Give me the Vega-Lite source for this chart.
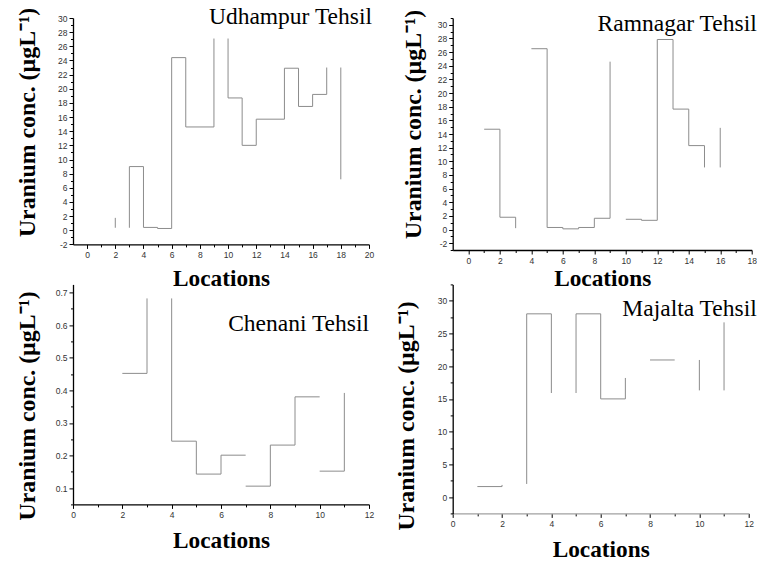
{
  "$schema": "https://vega.github.io/schema/vega-lite/v6.json",
  "padding": {"left": 15, "top": 4, "right": 0, "bottom": 0},
  "autosize": {"type": "pad"},
  "background": "white",
  "config": {
    "view": {"stroke": null},
    "axis": {
      "grid": false,
      "domainColor": "#000000",
      "domainWidth": 1.3,
      "tickColor": "#000000",
      "tickWidth": 1,
      "labelFont": "Liberation Sans",
      "labelFontSize": 8.5,
      "labelColor": "#333333",
      "labelPadding": 2,
      "labelFlush": false,
      "labelOverlap": false,
      "titleFont": "Liberation Serif",
      "titleFontWeight": "bold",
      "titleColor": "#000000"
    },
    "axisX": {"titleFontSize": 23.3},
    "axisY": {"titleFontSize": 23.8},
    "title": {
      "font": "Liberation Serif",
      "fontSize": 23.5,
      "fontWeight": "normal",
      "color": "#000000",
      "anchor": "end",
      "frame": "group",
      "baseline": "alphabetic"
    },
    "rule": {"color": "#8c8c8c", "strokeWidth": 1}
  },
  "datasets": {
    "udhampur": [
      {"x0": 2, "y0": 0.35, "x1": 2, "y1": 1.75},
      {"x0": 3, "y0": 0.35, "x1": 3, "y1": 9.0},
      {"x0": 3, "y0": 9.0, "x1": 4, "y1": 9.0},
      {"x0": 4, "y0": 9.0, "x1": 4, "y1": 0.4},
      {"x0": 4, "y0": 0.4, "x1": 5, "y1": 0.4},
      {"x0": 5, "y0": 0.4, "x1": 5, "y1": 0.25},
      {"x0": 5, "y0": 0.25, "x1": 6, "y1": 0.25},
      {"x0": 6, "y0": 0.25, "x1": 6, "y1": 24.4},
      {"x0": 6, "y0": 24.4, "x1": 7, "y1": 24.4},
      {"x0": 7, "y0": 24.4, "x1": 7, "y1": 14.6},
      {"x0": 7, "y0": 14.6, "x1": 9, "y1": 14.6},
      {"x0": 9, "y0": 14.6, "x1": 9, "y1": 27.1},
      {"x0": 10, "y0": 27.1, "x1": 10, "y1": 18.7},
      {"x0": 10, "y0": 18.7, "x1": 11, "y1": 18.7},
      {"x0": 11, "y0": 18.7, "x1": 11, "y1": 12.0},
      {"x0": 11, "y0": 12.0, "x1": 12, "y1": 12.0},
      {"x0": 12, "y0": 12.0, "x1": 12, "y1": 15.7},
      {"x0": 12, "y0": 15.7, "x1": 14, "y1": 15.7},
      {"x0": 14, "y0": 15.7, "x1": 14, "y1": 22.9},
      {"x0": 14, "y0": 22.9, "x1": 15, "y1": 22.9},
      {"x0": 15, "y0": 22.9, "x1": 15, "y1": 17.5},
      {"x0": 15, "y0": 17.5, "x1": 16, "y1": 17.5},
      {"x0": 16, "y0": 17.5, "x1": 16, "y1": 19.2},
      {"x0": 16, "y0": 19.2, "x1": 17, "y1": 19.2},
      {"x0": 17, "y0": 19.2, "x1": 17, "y1": 23.0},
      {"x0": 18, "y0": 23.0, "x1": 18, "y1": 7.2}
    ],
    "ramnagar": [
      {"x0": 1, "y0": 14.7, "x1": 2, "y1": 14.7},
      {"x0": 2, "y0": 14.7, "x1": 2, "y1": 1.8},
      {"x0": 2, "y0": 1.8, "x1": 3, "y1": 1.8},
      {"x0": 3, "y0": 1.8, "x1": 3, "y1": 0.2},
      {"x0": 4, "y0": 26.5, "x1": 5, "y1": 26.5},
      {"x0": 5, "y0": 26.5, "x1": 5, "y1": 0.3},
      {"x0": 5, "y0": 0.3, "x1": 6, "y1": 0.3},
      {"x0": 6, "y0": 0.3, "x1": 6, "y1": 0.1},
      {"x0": 6, "y0": 0.1, "x1": 7, "y1": 0.1},
      {"x0": 7, "y0": 0.1, "x1": 7, "y1": 0.3},
      {"x0": 7, "y0": 0.3, "x1": 8, "y1": 0.3},
      {"x0": 8, "y0": 0.3, "x1": 8, "y1": 1.65},
      {"x0": 8, "y0": 1.65, "x1": 9, "y1": 1.65},
      {"x0": 9, "y0": 1.65, "x1": 9, "y1": 24.6},
      {"x0": 10, "y0": 1.5, "x1": 11, "y1": 1.5},
      {"x0": 11, "y0": 1.5, "x1": 11, "y1": 1.35},
      {"x0": 11, "y0": 1.35, "x1": 12, "y1": 1.35},
      {"x0": 12, "y0": 1.35, "x1": 12, "y1": 27.85},
      {"x0": 12, "y0": 27.85, "x1": 13, "y1": 27.85},
      {"x0": 13, "y0": 27.85, "x1": 13, "y1": 17.65},
      {"x0": 13, "y0": 17.65, "x1": 14, "y1": 17.65},
      {"x0": 14, "y0": 17.65, "x1": 14, "y1": 12.3},
      {"x0": 14, "y0": 12.3, "x1": 15, "y1": 12.3},
      {"x0": 15, "y0": 12.3, "x1": 15, "y1": 9.1},
      {"x0": 16, "y0": 14.9, "x1": 16, "y1": 9.1}
    ],
    "chenani": [
      {"x0": 2, "y0": 0.452, "x1": 3, "y1": 0.452},
      {"x0": 3, "y0": 0.452, "x1": 3, "y1": 0.682},
      {"x0": 4, "y0": 0.682, "x1": 4, "y1": 0.244},
      {"x0": 4, "y0": 0.244, "x1": 5, "y1": 0.244},
      {"x0": 5, "y0": 0.244, "x1": 5, "y1": 0.143},
      {"x0": 5, "y0": 0.143, "x1": 6, "y1": 0.143},
      {"x0": 6, "y0": 0.143, "x1": 6, "y1": 0.201},
      {"x0": 6, "y0": 0.201, "x1": 7, "y1": 0.201},
      {"x0": 7, "y0": 0.106, "x1": 8, "y1": 0.106},
      {"x0": 8, "y0": 0.106, "x1": 8, "y1": 0.232},
      {"x0": 8, "y0": 0.232, "x1": 9, "y1": 0.232},
      {"x0": 9, "y0": 0.232, "x1": 9, "y1": 0.38},
      {"x0": 9, "y0": 0.38, "x1": 10, "y1": 0.38},
      {"x0": 10, "y0": 0.152, "x1": 11, "y1": 0.152},
      {"x0": 11, "y0": 0.152, "x1": 11, "y1": 0.392}
    ],
    "majalta": [
      {"x0": 1, "y0": 1.6, "x1": 2, "y1": 1.6},
      {"x0": 2, "y0": 1.6, "x1": 2, "y1": 1.85},
      {"x0": 3, "y0": 2.0, "x1": 3, "y1": 28.0},
      {"x0": 3, "y0": 28.0, "x1": 4, "y1": 28.0},
      {"x0": 4, "y0": 28.0, "x1": 4, "y1": 15.9},
      {"x0": 5, "y0": 15.9, "x1": 5, "y1": 28.0},
      {"x0": 5, "y0": 28.0, "x1": 6, "y1": 28.0},
      {"x0": 6, "y0": 28.0, "x1": 6, "y1": 15.0},
      {"x0": 6, "y0": 15.0, "x1": 7, "y1": 15.0},
      {"x0": 7, "y0": 15.0, "x1": 7, "y1": 18.2},
      {"x0": 8, "y0": 20.95, "x1": 9, "y1": 20.95},
      {"x0": 10, "y0": 20.95, "x1": 10, "y1": 16.3},
      {"x0": 11, "y0": 16.3, "x1": 11, "y1": 26.7}
    ]
  },
  "columns": 2,
  "spacing": {"row": 34.4, "column": 83.7},
  "bounds": "flush",
  "concat": [
    {
      "width": 296,
      "height": 226.4,
      "data": {"name": "udhampur"},
      "title": {"text": "Udhampur Tehsil", "offset": -21, "dx": 3},
      "mark": "rule",
      "encoding": {
        "x": {"field": "x0", "type": "quantitative", "scale": {"domain": [-1, 20], "nice": false, "zero": false},
          "axis": {"title": "Locations", "titlePadding": 8.5,
            "values": [0,1,2,3,4,5,6,7,8,9,10,11,12,13,14,15,16,17,18,19,20],
            "labelExpr": "datum.value % 2 === 0 ? '' + datum.value : ''",
            "tickSize": {"condition": {"test": "datum.value % 2 === 0", "value": 4}, "value": 2.5}}},
        "x2": {"field": "x1"},
        "y": {"field": "y0", "type": "quantitative", "scale": {"domain": [-2, 30], "nice": false, "zero": false},
          "axis": {"title": "Uranium conc. (µgL⁻¹)", "titlePadding": 18, "titleY": 104,
            "values": [-2,-1,0,1,2,3,4,5,6,7,8,9,10,11,12,13,14,15,16,17,18,19,20,21,22,23,24,25,26,27,28,29,30],
            "labelExpr": "datum.value % 2 === 0 ? '' + datum.value : ''",
            "tickSize": {"condition": {"test": "datum.value % 2 === 0", "value": 4}, "value": 2.5}}},
        "y2": {"field": "y1"}
      }
    },
    {
      "width": 299,
      "height": 232,
      "data": {"name": "ramnagar"},
      "title": {"text": "Ramnagar Tehsil", "offset": -26, "dx": 5},
      "mark": "rule",
      "encoding": {
        "x": {"field": "x0", "type": "quantitative", "scale": {"domain": [-1, 18], "nice": false, "zero": false},
          "axis": {"title": "Locations", "titlePadding": 2.5,
            "values": [0,1,2,3,4,5,6,7,8,9,10,11,12,13,14,15,16,17,18],
            "labelExpr": "datum.value % 2 === 0 ? '' + datum.value : ''",
            "tickSize": {"condition": {"test": "datum.value % 2 === 0", "value": 4}, "value": 2.5}}},
        "x2": {"field": "x1"},
        "y": {"field": "y0", "type": "quantitative", "scale": {"domain": [-3, 31], "nice": false, "zero": false},
          "axis": {"title": "Uranium conc. (µgL⁻¹)", "titleX": -27, "titleY": 106,
            "values": [-3,-2,-1,0,1,2,3,4,5,6,7,8,9,10,11,12,13,14,15,16,17,18,19,20,21,22,23,24,25,26,27,28,29,30,31],
            "labelExpr": "datum.value % 2 === 0 ? '' + datum.value : ''",
            "tickSize": {"condition": {"test": "datum.value % 2 === 0", "value": 4}, "value": 2.5}}},
        "y2": {"field": "y1"}
      }
    },
    {
      "width": 296,
      "height": 220,
      "data": {"name": "chenani"},
      "title": {"text": "Chenani Tehsil", "offset": -50.6, "dx": 0},
      "mark": "rule",
      "encoding": {
        "x": {"field": "x0", "type": "quantitative", "scale": {"domain": [0, 12], "nice": false, "zero": false},
          "axis": {"title": "Locations", "titlePadding": 10.5,
            "values": [0,1,2,3,4,5,6,7,8,9,10,11,12],
            "labelExpr": "datum.value % 2 === 0 ? '' + datum.value : ''",
            "tickSize": {"condition": {"test": "datum.value % 2 === 0", "value": 4}, "value": 2.5}}},
        "x2": {"field": "x1"},
        "y": {"field": "y0", "type": "quantitative", "scale": {"domain": [0.05, 0.725], "nice": false, "zero": false},
          "axis": {"title": "Uranium conc. (µgL⁻¹)", "titlePadding": 16, "titleY": 121,
            "values": [0.05,0.1,0.15,0.2,0.25,0.3,0.35,0.4,0.45,0.5,0.55,0.6,0.65,0.7],
            "labelExpr": "round(datum.value * 100) % 10 === 0 ? '' + datum.value : ''",
            "tickSize": {"condition": {"test": "round(datum.value * 100) % 10 === 0", "value": 4}, "value": 2.5}}},
        "y2": {"field": "y1"}
      }
    },
    {
      "width": 296,
      "height": 229,
      "data": {"name": "majalta"},
      "title": {"text": "Majalta Tehsil", "offset": -39.8, "dx": 8},
      "mark": "rule",
      "encoding": {
        "x": {"field": "x0", "type": "quantitative", "scale": {"domain": [0, 12], "nice": false, "zero": false},
          "axis": {"title": "Locations", "titlePadding": 11, "domainColor": "#a0a0a0",
            "values": [0,1,2,3,4,5,6,7,8,9,10,11,12],
            "labelExpr": "datum.value % 2 === 0 ? '' + datum.value : ''",
            "tickSize": {"condition": {"test": "datum.value % 2 === 0", "value": 4}, "value": 2.5}}},
        "x2": {"field": "x1"},
        "y": {"field": "y0", "type": "quantitative", "scale": {"domain": [-2.5, 32.5], "nice": false, "zero": false},
          "axis": {"title": "Uranium conc. (µgL⁻¹)", "titlePadding": 19, "titleY": 131,
            "values": [-2.5,0,2.5,5,7.5,10,12.5,15,17.5,20,22.5,25,27.5,30,32.5],
            "labelExpr": "datum.value % 5 === 0 ? '' + datum.value : ''",
            "tickSize": {"condition": {"test": "datum.value % 5 === 0", "value": 4}, "value": 2.5}}},
        "y2": {"field": "y1"}
      }
    }
  ]
}
